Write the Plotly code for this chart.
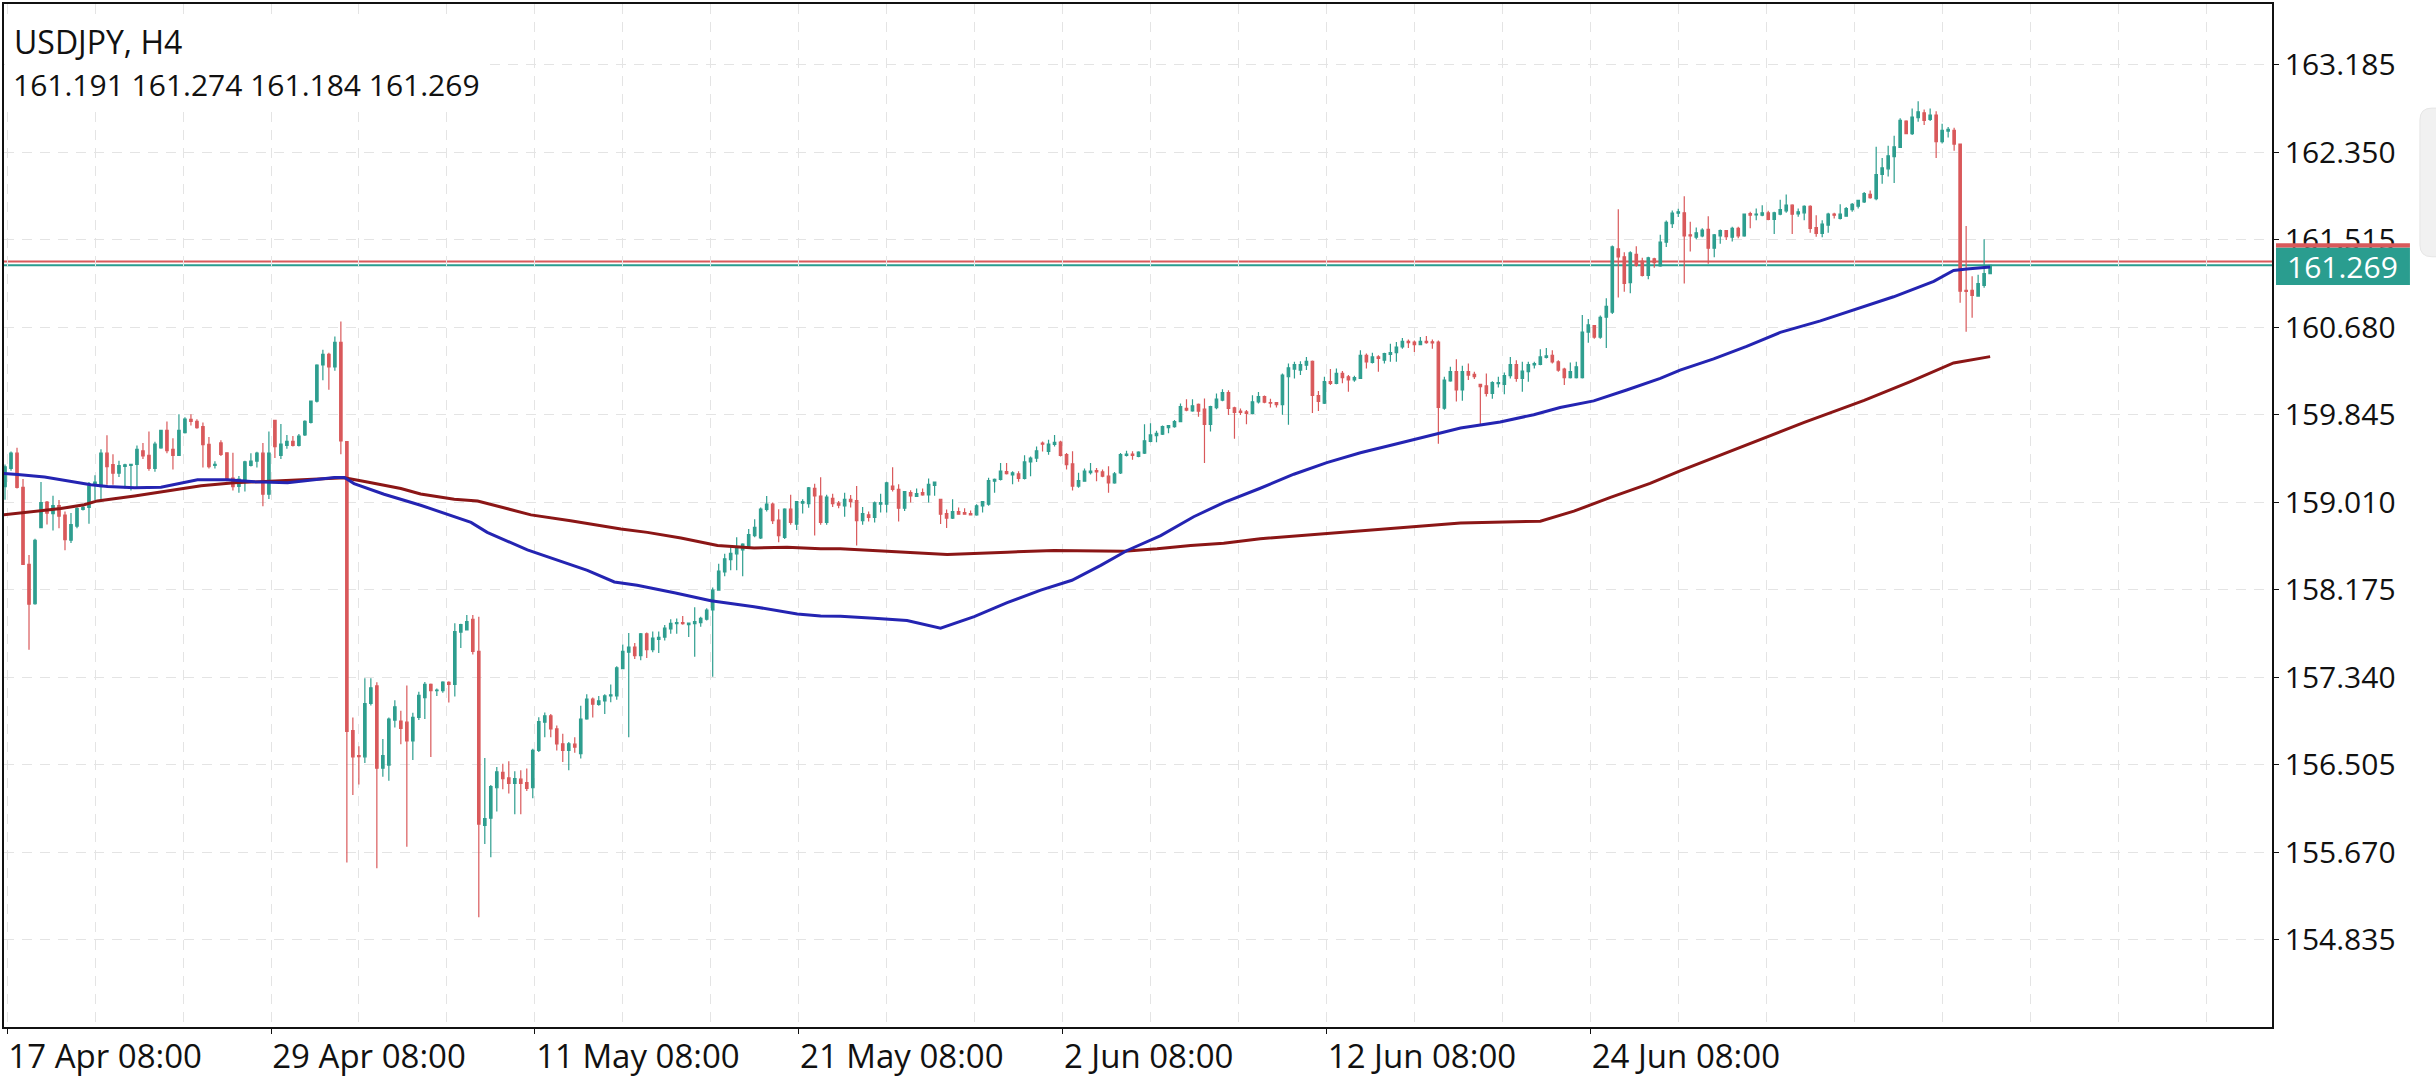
import plotly.graph_objects as go

# ---------------- data ----------------
symbol_title = "USDJPY, H4"
last_ohlc_text = "161.191 161.274 161.184 161.269"
bid_price = 161.269
ask_price = 161.305
bid_label = "161.269"

x_tick_bars = [0, 44, 88, 132, 176, 220, 264]
x_tick_text = ["17 Apr 08:00", "29 Apr 08:00", "11 May 08:00", "21 May 08:00",
               "2 Jun 08:00", "12 Jun 08:00", "24 Jun 08:00"]
y_tick_text = ["154.835", "155.670", "156.505", "157.340", "158.175", "159.010",
               "159.845", "160.680", "161.515", "162.350", "163.185"]

open_vals = [
    159.158, 159.332, 159.477, 159.151, 158.416, 158.040, 158.767, 159.010, 158.900, 158.977,
    158.886, 158.646, 158.780, 158.940, 158.960, 159.170, 159.158, 159.477, 159.368, 159.285,
    159.350, 159.360, 159.370, 159.500, 159.455, 159.332, 159.528, 159.695, 159.513, 159.455,
    159.673, 159.800, 159.780, 159.730, 159.560, 159.360, 159.575, 159.480, 159.240, 159.160,
    159.210, 159.360, 159.400, 159.477, 159.085, 159.790, 159.455, 159.550, 159.590, 159.550,
    159.650, 159.770, 159.973, 160.318, 160.420, 160.300, 160.535, 159.586, 156.830, 156.590,
    156.579, 157.090, 157.256, 156.470, 156.500, 156.930, 156.920, 156.910, 156.730, 156.955,
    157.145, 157.270, 157.210, 157.210, 157.290, 157.271, 157.770, 157.790, 157.892, 157.586,
    155.924, 155.994, 156.284, 156.430, 156.378, 156.325, 156.366, 156.334, 156.284, 156.640,
    156.910, 156.970, 156.845, 156.703, 156.640, 156.700, 156.610, 156.940, 157.129, 157.080,
    157.113, 157.160, 157.160, 157.420, 157.577, 157.627, 157.545, 157.753, 157.602, 157.700,
    157.722, 157.800, 157.850, 157.860, 157.840, 157.850, 157.860, 157.892, 157.980, 158.170,
    158.343, 158.460, 158.516, 158.554, 158.585, 158.690, 158.668, 158.940, 158.990, 158.838,
    158.674, 158.942, 158.800, 159.000, 158.996, 159.140, 159.068, 158.816, 159.046, 159.000,
    158.974, 159.037, 159.025, 158.832, 158.889, 158.863, 158.990, 158.990, 159.163, 159.131,
    158.951, 159.100, 159.065, 159.100, 159.078, 159.170, 159.037, 158.900, 158.857, 158.920,
    158.910, 158.900, 158.888, 158.974, 158.990, 159.210, 159.226, 159.300, 159.270, 159.279,
    159.235, 159.393, 159.430, 159.573, 159.494, 159.560, 159.582, 159.462, 159.374, 159.163,
    159.210, 159.290, 159.310, 159.298, 159.257, 159.194, 159.289, 159.456, 159.468, 159.446,
    159.478, 159.588, 159.645, 159.658, 159.720, 159.730, 159.777, 159.904, 159.880, 159.942,
    159.897, 159.752, 159.910, 159.983, 160.055, 159.910, 159.878, 159.870, 159.856, 159.967,
    160.017, 159.960, 159.960, 159.940, 160.206, 160.279, 160.270, 160.316, 160.354, 160.027,
    159.954, 160.159, 160.143, 160.238, 160.206, 160.175, 160.190, 160.411, 160.342, 160.395,
    160.364, 160.420, 160.436, 160.490, 160.544, 160.537, 160.512, 160.544, 160.540, 160.537,
    159.906, 160.166, 160.254, 160.080, 160.254, 160.228, 160.134, 160.118, 160.046, 160.140,
    160.134, 160.216, 160.323, 160.190, 160.254, 160.320, 160.323, 160.390, 160.411, 160.348,
    160.279, 160.197, 160.197, 160.197, 160.632, 160.695, 160.585, 160.774, 160.822, 161.426,
    161.350, 161.104, 161.373, 161.310, 161.174, 161.332, 161.263, 161.490, 161.666, 161.767,
    161.770, 161.560, 161.537, 161.550, 161.612, 161.433, 161.550, 161.600, 161.537, 161.622,
    161.549, 161.764, 161.750, 161.748, 161.770, 161.707, 161.757, 161.789, 161.843, 161.760,
    161.770, 161.833, 161.630, 161.574, 161.653, 161.757, 161.716, 161.738, 161.800, 161.833,
    161.874, 161.946, 161.905, 162.136, 162.190, 162.306, 162.394, 162.646, 162.527, 162.678,
    162.725, 162.662, 162.703, 162.450, 162.550, 162.558, 162.426, 161.030, 161.030, 160.976,
    161.077, 161.191,
]

high_vals = [
    159.368, 159.492, 159.528, 159.230, 158.506, 158.660, 159.202, 159.020, 159.070, 159.030,
    158.920, 158.905, 158.960, 158.980, 159.202, 159.267, 159.513, 159.647, 159.466, 159.405,
    159.375, 159.375, 159.550, 159.575, 159.684, 159.586, 159.700, 159.780, 159.620, 159.847,
    159.820, 159.847, 159.800, 159.770, 159.630, 159.400, 159.600, 159.480, 159.480, 159.260,
    159.405, 159.477, 159.490, 159.575, 159.684, 159.793, 159.756, 159.650, 159.640, 159.660,
    159.790, 159.980, 160.325, 160.463, 160.435, 160.590, 160.734, 159.590, 156.955, 156.680,
    157.329, 157.330, 157.290, 156.750, 156.955, 157.120, 157.020, 157.260, 157.000, 157.200,
    157.293, 157.280, 157.230, 157.300, 157.300, 157.854, 157.850, 157.933, 157.933, 157.917,
    156.568, 156.310, 156.483, 156.514, 156.536, 156.441, 156.450, 156.467, 156.656, 156.956,
    157.003, 156.987, 156.877, 156.800, 156.720, 156.767, 157.066, 157.176, 157.145, 157.160,
    157.176, 157.270, 157.444, 157.650, 157.760, 157.665, 157.760, 157.766, 157.775, 157.775,
    157.838, 157.892, 157.900, 157.924, 157.860, 158.006, 157.917, 157.996, 158.195, 158.422,
    158.516, 158.579, 158.674, 158.617, 158.752, 158.847, 158.958, 159.068, 159.005, 158.942,
    158.950, 159.080, 159.020, 159.036, 159.153, 159.185, 159.248, 159.080, 159.090, 159.020,
    159.100, 159.078, 159.163, 158.964, 158.920, 159.015, 159.090, 159.204, 159.342, 159.180,
    159.115, 159.122, 159.140, 159.140, 159.235, 159.204, 159.040, 158.940, 159.037, 158.958,
    158.950, 158.930, 158.990, 159.020, 159.242, 159.235, 159.383, 159.383, 159.305, 159.305,
    159.456, 159.446, 159.541, 159.588, 159.604, 159.650, 159.595, 159.478, 159.494, 159.289,
    159.330, 159.383, 159.336, 159.320, 159.352, 159.298, 159.478, 159.500, 159.494, 159.494,
    159.752, 159.762, 159.690, 159.740, 159.746, 159.793, 159.951, 159.992, 159.992, 159.951,
    159.998, 159.929, 160.045, 160.087, 160.077, 159.920, 159.904, 159.888, 160.030, 160.060,
    160.027, 159.995, 159.966, 160.238, 160.332, 160.348, 160.354, 160.395, 160.360, 160.070,
    160.206, 160.279, 160.285, 160.260, 160.222, 160.216, 160.458, 160.427, 160.436, 160.411,
    160.436, 160.521, 160.537, 160.575, 160.562, 160.553, 160.585, 160.594, 160.562, 160.553,
    160.206, 160.301, 160.373, 160.310, 160.332, 160.254, 160.134, 160.238, 160.163, 160.206,
    160.247, 160.395, 160.364, 160.348, 160.348, 160.348, 160.468, 160.480, 160.458, 160.364,
    160.291, 160.342, 160.348, 160.796, 160.758, 160.701, 160.790, 160.954, 161.458, 161.805,
    161.395, 161.404, 161.452, 161.341, 161.351, 161.341, 161.562, 161.698, 161.792, 161.810,
    161.928, 161.685, 161.631, 161.622, 161.738, 161.568, 161.612, 161.606, 161.637, 161.637,
    161.764, 161.780, 161.811, 161.843, 161.789, 161.780, 161.896, 161.946, 161.852, 161.811,
    161.843, 161.843, 161.748, 161.700, 161.770, 161.770, 161.852, 161.827, 161.865, 161.896,
    161.969, 161.984, 162.400, 162.293, 162.410, 162.505, 162.672, 162.653, 162.766, 162.836,
    162.757, 162.766, 162.740, 162.621, 162.590, 162.583, 162.432, 161.644, 161.165, 161.180,
    161.517, 161.274,
]

low_vals = [
    159.032, 159.310, 159.140, 158.410, 157.600, 158.030, 158.760, 158.796, 158.740, 158.760,
    158.550, 158.620, 158.760, 158.930, 158.803, 159.030, 159.030, 159.176, 159.176, 159.250,
    159.140, 159.120, 159.140, 159.420, 159.310, 159.300, 159.520, 159.477, 159.320, 159.450,
    159.665, 159.740, 159.710, 159.340, 159.330, 159.330, 159.450, 159.210, 159.120, 159.100,
    159.110, 159.350, 159.340, 158.970, 159.040, 159.430, 159.420, 159.520, 159.540, 159.540,
    159.640, 159.760, 159.960, 160.173, 160.082, 160.263, 159.466, 155.571, 156.216, 156.314,
    156.520, 157.070, 155.517, 156.390, 156.350, 156.860, 156.700, 155.720, 156.550, 156.930,
    156.940, 156.577, 157.160, 157.190, 157.097, 157.154, 157.618, 157.785, 157.555, 155.048,
    155.748, 155.622, 156.057, 156.270, 156.230, 156.032, 156.032, 156.252, 156.183, 156.625,
    156.766, 156.766, 156.640, 156.530, 156.450, 156.618, 156.562, 156.933, 156.955, 157.066,
    156.987, 157.100, 157.123, 157.415, 156.766, 157.513, 157.501, 157.523, 157.577, 157.570,
    157.690, 157.753, 157.753, 157.840, 157.722, 157.533, 157.820, 157.880, 157.343, 158.164,
    158.302, 158.359, 158.359, 158.302, 158.563, 158.674, 158.658, 158.920, 158.800, 158.627,
    158.658, 158.794, 158.743, 158.900, 158.957, 158.690, 158.794, 158.794, 158.964, 158.950,
    158.870, 158.958, 158.595, 158.794, 158.825, 158.816, 158.910, 158.910, 159.110, 158.825,
    158.926, 159.005, 159.060, 159.070, 159.005, 159.070, 158.800, 158.762, 158.848, 158.888,
    158.888, 158.885, 158.879, 158.911, 158.974, 159.100, 159.216, 159.273, 159.180, 159.204,
    159.226, 159.257, 159.393, 159.493, 159.462, 159.540, 159.446, 159.320, 159.120, 159.147,
    159.204, 159.273, 159.210, 159.248, 159.100, 159.185, 159.279, 159.446, 159.415, 159.437,
    159.468, 159.582, 159.582, 159.651, 159.667, 159.720, 159.771, 159.878, 159.872, 159.825,
    159.383, 159.683, 159.897, 159.973, 159.840, 159.614, 159.840, 159.752, 159.847, 159.950,
    159.954, 159.913, 159.913, 159.844, 159.749, 160.190, 160.222, 160.270, 159.860, 159.880,
    159.945, 160.127, 160.134, 160.143, 160.064, 160.159, 160.184, 160.285, 160.332, 160.253,
    160.332, 160.348, 160.348, 160.474, 160.480, 160.443, 160.506, 160.521, 160.474, 159.566,
    159.891, 160.159, 159.970, 159.976, 160.175, 160.184, 159.749, 160.017, 159.995, 160.103,
    160.040, 160.190, 160.159, 160.064, 160.159, 160.285, 160.316, 160.380, 160.332, 160.253,
    160.127, 160.190, 160.190, 160.190, 160.531, 160.569, 160.569, 160.480, 160.805, 160.963,
    161.016, 161.004, 161.256, 161.162, 161.136, 161.247, 161.256, 161.445, 161.625, 161.730,
    161.095, 161.401, 161.518, 161.537, 161.284, 161.347, 161.474, 161.511, 161.496, 161.527,
    161.543, 161.622, 161.700, 161.738, 161.700, 161.568, 161.748, 161.770, 161.568, 161.732,
    161.700, 161.580, 161.543, 161.537, 161.580, 161.716, 161.707, 161.732, 161.780, 161.811,
    161.865, 161.905, 161.890, 162.047, 162.117, 162.054, 162.388, 162.520, 162.514, 162.640,
    162.608, 162.646, 162.293, 162.432, 162.489, 162.363, 160.912, 160.635, 160.770, 160.976,
    161.055, 161.184,
]

close_vals = [
    159.347, 159.477, 159.151, 158.416, 158.035, 158.644, 159.006, 158.905, 158.977, 158.876,
    158.651, 158.796, 158.948, 158.960, 159.166, 159.200, 159.477, 159.347, 159.285, 159.357,
    159.366, 159.370, 159.513, 159.450, 159.332, 159.564, 159.695, 159.502, 159.455, 159.695,
    159.803, 159.780, 159.720, 159.557, 159.347, 159.370, 159.466, 159.230, 159.158, 159.230,
    159.394, 159.400, 159.477, 159.085, 159.477, 159.540, 159.564, 159.590, 159.550, 159.640,
    159.780, 159.973, 160.318, 160.420, 160.300, 160.535, 159.593, 156.821, 156.579, 156.580,
    157.086, 157.238, 156.470, 156.590, 156.940, 157.057, 156.850, 156.730, 156.955, 157.166,
    157.271, 157.210, 157.215, 157.293, 157.270, 157.775, 157.840, 157.870, 157.586, 155.937,
    155.990, 156.294, 156.436, 156.372, 156.325, 156.372, 156.325, 156.277, 156.640, 156.915,
    156.970, 156.845, 156.703, 156.640, 156.703, 156.672, 156.940, 157.129, 157.082, 157.113,
    157.160, 157.170, 157.428, 157.586, 157.627, 157.545, 157.753, 157.602, 157.712, 157.720,
    157.807, 157.854, 157.860, 157.850, 157.855, 157.870, 157.900, 157.980, 158.170, 158.352,
    158.469, 158.520, 158.579, 158.610, 158.699, 158.769, 158.942, 158.990, 158.832, 158.690,
    158.942, 158.816, 159.014, 159.014, 159.147, 159.068, 158.816, 159.058, 158.996, 158.980,
    159.037, 159.015, 158.832, 158.901, 158.863, 159.002, 159.005, 159.194, 159.131, 158.951,
    159.109, 159.068, 159.090, 159.078, 159.180, 159.200, 158.895, 158.857, 158.920, 158.895,
    158.895, 158.888, 158.974, 159.015, 159.216, 159.226, 159.305, 159.282, 159.290, 159.235,
    159.393, 159.430, 159.500, 159.563, 159.563, 159.580, 159.456, 159.368, 159.163, 159.216,
    159.305, 159.305, 159.298, 159.257, 159.194, 159.279, 159.462, 159.468, 159.456, 159.487,
    159.595, 159.651, 159.667, 159.730, 159.740, 159.777, 159.920, 159.888, 159.929, 159.878,
    159.752, 159.920, 159.992, 160.055, 159.904, 159.866, 159.866, 159.856, 159.967, 160.017,
    159.963, 159.955, 159.940, 160.222, 160.291, 160.323, 160.323, 160.354, 160.027, 159.970,
    160.159, 160.143, 160.238, 160.197, 160.175, 160.197, 160.411, 160.348, 160.395, 160.380,
    160.427, 160.436, 160.490, 160.544, 160.531, 160.512, 160.544, 160.531, 160.530, 159.913,
    160.175, 160.254, 160.080, 160.254, 160.222, 160.206, 160.112, 160.046, 160.150, 160.150,
    160.216, 160.323, 160.190, 160.260, 160.323, 160.332, 160.395, 160.405, 160.348, 160.270,
    160.197, 160.254, 160.301, 160.632, 160.701, 160.585, 160.774, 160.878, 161.445, 161.350,
    161.098, 161.389, 161.269, 161.174, 161.341, 161.294, 161.490, 161.679, 161.767, 161.780,
    161.549, 161.550, 161.580, 161.606, 161.433, 161.559, 161.600, 161.543, 161.622, 161.549,
    161.757, 161.748, 161.757, 161.770, 161.707, 161.770, 161.800, 161.843, 161.757, 161.780,
    161.833, 161.622, 161.574, 161.663, 161.757, 161.748, 161.757, 161.811, 161.852, 161.890,
    161.953, 161.915, 162.136, 162.199, 162.315, 162.400, 162.653, 162.527, 162.684, 162.735,
    162.653, 162.703, 162.450, 162.558, 162.567, 162.426, 161.023, 161.020, 160.982, 161.095,
    161.190, 161.269,
]

bar_index = list(range(len(close_vals)))

# moving averages (blue = fast, dark red = slow), sampled at bar positions
ma_fast_x = [-0.7, 2.1, 6.6, 10.4, 14.3, 17.1, 21.6, 26, 29.3, 32.1, 37.1, 41.6, 47.1, 52.1,
             54.9, 56.6, 58.2, 63.2, 69.3, 77.7, 80.4, 87.1, 92.7, 97.1, 101.6, 105.4, 111.6,
             117.7, 124.9, 132.1, 136, 139.3, 144.9, 150.4, 156, 161.6, 167.1, 172.7, 177.9,
             182.7, 187.1, 192.7, 198.2, 203.2, 209.3, 214.9, 220.4, 226, 231.6, 237.1, 242.7,
             249.3, 254.9, 259.3, 264.9, 270.4, 276, 279.3, 284.9, 290.4, 296, 302.7, 308.2,
             314.9, 321.6, 324.9, 327.1, 331]
ma_fast_y = [159.285, 159.274, 159.249, 159.213, 159.176, 159.158, 159.147, 159.151, 159.187,
             159.224, 159.224, 159.205, 159.194, 159.224, 159.245, 159.245, 159.187, 159.085,
             158.980, 158.816, 158.721, 158.554, 158.447, 158.359, 158.248, 158.217, 158.144,
             158.069, 158.012, 157.942, 157.923, 157.920, 157.902, 157.880, 157.807, 157.917,
             158.050, 158.170, 158.264, 158.406, 158.548, 158.690, 158.870, 159.005, 159.142,
             159.276, 159.386, 159.481, 159.560, 159.639, 159.717, 159.774, 159.844, 159.913,
             159.976, 160.080, 160.190, 160.270, 160.376, 160.496, 160.629, 160.739, 160.843,
             160.969, 161.117, 161.221, 161.234, 161.253]

ma_slow_x = [-0.7, 4.9, 9.3, 13.2, 15.4, 21.6, 27.1, 32.7, 38.2, 45.4, 52.1, 56.6, 60.4, 66,
             69.3, 74.9, 78.8, 83.2, 87.7, 94.3, 102.7, 107.1, 112.7, 118.8, 124.9, 130.4, 136,
             139.3, 147.7, 157.1, 167.1, 174.9, 186.6, 192.1, 197.7, 203.2, 209.3, 220.4, 231.6,
             242.7, 256, 261.6, 267.7, 274.3, 279.3, 290, 300, 310, 317.7, 324.9, 331]
ma_slow_y = [158.887, 158.923, 158.948, 158.984, 159.021, 159.068, 159.115, 159.166, 159.194,
             159.213, 159.230, 159.242, 159.202, 159.140, 159.088, 159.037, 159.021, 158.958,
             158.888, 158.832, 158.753, 158.721, 158.668, 158.595, 158.573, 158.579, 158.564,
             158.564, 158.538, 158.510, 158.532, 158.548, 158.542, 158.564, 158.595, 158.617,
             158.660, 158.709, 158.756, 158.810, 158.828, 158.923, 159.055, 159.188, 159.308,
             159.550, 159.770, 159.980, 160.160, 160.338, 160.398]

assert len(open_vals) == len(high_vals) == len(low_vals) == len(close_vals) == 332
assert len(ma_fast_x) == len(ma_fast_y) and len(ma_slow_x) == len(ma_slow_y)

# ---------------- styling ----------------
W, H = 2436, 1080
M_L, M_R, M_T, M_B = 3, 164, 2, 46
FONT = "Open Sans"
UP = "#2e9e8f"
DOWN = "#d9595b"
GRID = "#e4e4e4"
TAG = "#2a9d8f"

plot_w = W - M_L - M_R
plot_h = H - M_T - M_B


def px_x(px):
    return (px - M_L) / plot_w


def px_y(py):
    return (H - M_B - py) / plot_h


fig = go.Figure()
fig.add_trace(go.Candlestick(
    x=bar_index, open=open_vals, high=high_vals, low=low_vals, close=close_vals,
    increasing=dict(line=dict(color=UP, width=1.2), fillcolor=UP),
    decreasing=dict(line=dict(color=DOWN, width=1.2), fillcolor=DOWN),
    whiskerwidth=0, hoverinfo="skip", showlegend=False))
fig.add_trace(go.Scatter(x=ma_slow_x, y=ma_slow_y, mode="lines",
                         line=dict(color="#8b1616", width=3), hoverinfo="skip", showlegend=False))
fig.add_trace(go.Scatter(x=ma_fast_x, y=ma_fast_y, mode="lines",
                         line=dict(color="#2424b2", width=3), hoverinfo="skip", showlegend=False))

tick_offset = 0.35
x_tickvals = [b + tick_offset for b in x_tick_bars]
x_grid_vals = [tick_offset + k * 44 / 3 for k in range(0, 27)]
y_tickvals = [float(t) for t in y_tick_text]

shapes = [
    # bid / ask lines
    dict(type="line", xref="paper", x0=0, x1=1, yref="y", y0=ask_price, y1=ask_price,
         line=dict(color="#d9595b", width=2), layer="between"),
    dict(type="line", xref="paper", x0=0, x1=1, yref="y", y0=bid_price, y1=bid_price,
         line=dict(color=TAG, width=2), layer="between"),
    # white box behind the header text
    dict(type="rect", xref="paper", yref="paper", x0=px_x(4), x1=px_x(484),
         y0=px_y(108), y1=px_y(20), fillcolor="white", line=dict(width=0), layer="above"),
    # price tag
    dict(type="rect", xref="paper", yref="y", x0=px_x(2276), x1=px_x(2410),
         y0=161.081, y1=161.440, fillcolor=TAG, line=dict(width=0), layer="above"),
    dict(type="rect", xref="paper", yref="y", x0=px_x(2276), x1=px_x(2410),
         y0=161.440, y1=161.480, fillcolor="#d9595b", line=dict(width=0), layer="above"),
]

# grey rounded handle at the right edge
hx0, hx1 = px_x(2420), px_x(2450)
hy0, hy1 = px_y(257), px_y(107)
rx, ry = 12 / plot_w, 12 / plot_h
handle_path = (f"M {hx0 + rx},{hy1} L {hx1},{hy1} L {hx1},{hy0} L {hx0 + rx},{hy0} "
               f"Q {hx0},{hy0} {hx0},{hy0 + ry} L {hx0},{hy1 - ry} Q {hx0},{hy1} {hx0 + rx},{hy1} Z")
shapes.append(dict(type="path", xref="paper", yref="paper", path=handle_path,
                   fillcolor="#f1f1f1", line=dict(color="#e6e6e6", width=1), layer="above"))

annotations = [
    dict(text=symbol_title, xref="paper", yref="paper", x=px_x(11), y=px_y(40),
         xanchor="left", yanchor="middle", showarrow=False,
         font=dict(family=FONT, size=32, color="#111111")),
    dict(text=last_ohlc_text, xref="paper", yref="paper", x=px_x(10), y=px_y(83),
         xanchor="left", yanchor="middle", showarrow=False,
         font=dict(family=FONT, size=30, color="#111111")),
    dict(text=bid_label, xref="paper", yref="y", x=(px_x(2276) + px_x(2410)) / 2, y=161.262,
         xanchor="center", yanchor="middle", showarrow=False,
         font=dict(family=FONT, size=30, color="white")),
]

fig.update_layout(
    width=W, height=H,
    margin=dict(l=M_L, r=M_R, t=M_T, b=M_B, pad=0),
    paper_bgcolor="white", plot_bgcolor="white",
    showlegend=False, hovermode=False, boxgap=0.42,
    font=dict(family=FONT, size=30, color="#111111"),
    shapes=shapes, annotations=annotations,
    xaxis=dict(
        range=[-0.17, 378.0], tickmode="array", tickvals=x_tickvals, ticktext=x_tick_text,
        ticks="outside", ticklen=5, tickwidth=1, tickcolor="#111111",
        ticklabelposition="outside right",
        tickfont=dict(family=FONT, size=33, color="#111111"),
        showline=True, mirror=True, linecolor="#111111", linewidth=1.5,
        showgrid=True, gridcolor=GRID, gridwidth=1, griddash="10px,8px",
        minor=dict(tickmode="array", tickvals=x_grid_vals, showgrid=True, gridcolor=GRID,
                   gridwidth=1, griddash="10px,8px", ticks=""),
        zeroline=False, rangeslider=dict(visible=False), fixedrange=True,
    ),
    yaxis=dict(
        side="right", range=[154.001, 163.763], tickmode="array",
        tickvals=y_tickvals, ticktext=y_tick_text,
        ticks="outside", ticklen=5, tickwidth=1, tickcolor="#111111",
        tickfont=dict(family=FONT, size=30, color="#111111"),
        showline=True, mirror=True, linecolor="#111111", linewidth=1.5,
        showgrid=True, gridcolor=GRID, gridwidth=1, griddash="10px,8px",
        zeroline=False, fixedrange=True,
    ),
)

fig.write_html("out.html")
